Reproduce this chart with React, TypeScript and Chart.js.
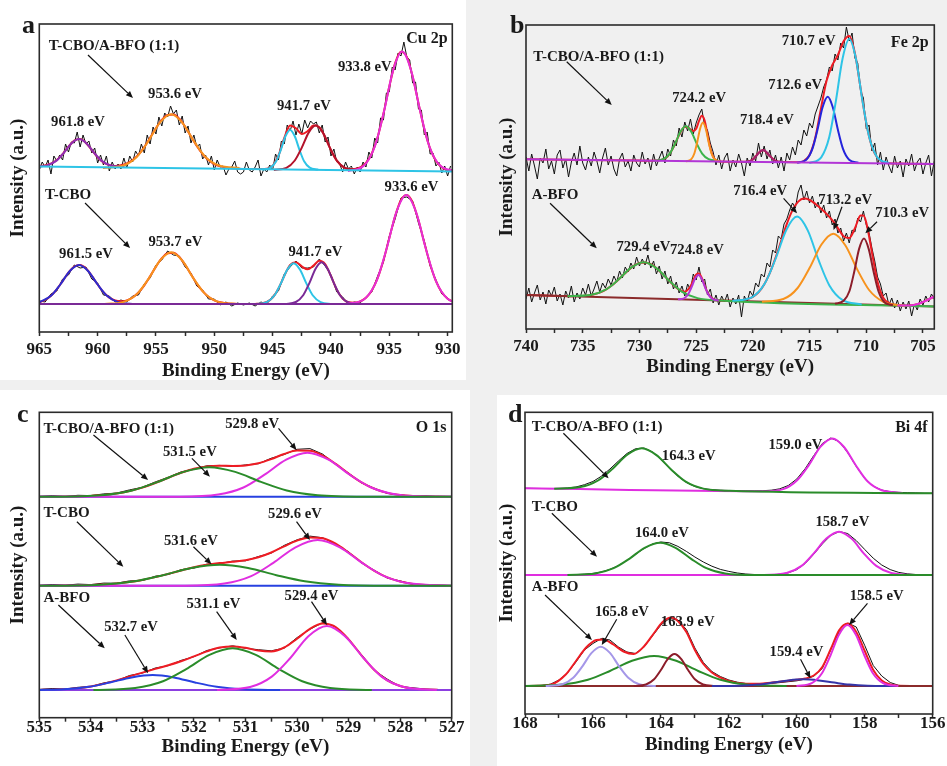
import React, { useEffect, useRef } from 'react';
import { Chart, registerables } from 'chart.js';

Chart.register(...registerables);

type Pt = [number, number];
const FONT = '"Liberation Serif", "Times New Roman", Times, serif';

/* ================= a : Cu 2p ================= */
const cuTickMajor = [965, 960, 955, 950, 945, 940, 935, 930];
const cuTickMinor = [962.5, 957.5, 952.5, 947.5, 942.5, 937.5, 932.5];
// T-CBO/A-BFO (1:1) measured counts (from 965 eV downward, 0.25 eV step)
const cuMixRawStart = 965;
const cuMixRawStep = 0.25;
const cuMixRaw = [
  162,170,165,172,158,176,171,177,172,188,
  180,190,189,200,185,197,188,191,179,184,
  169,177,167,176,161,170,163,168,163,174,
  164,176,170,181,176,188,179,197,188,205,
  198,215,206,219,215,226,218,222,207,216,
  199,206,189,197,185,188,173,177,167,176,
  162,172,165,166,157,163,165,171,160,158,
  160,170,162,160,165,172,156,163,160,167,
  162,178,172,191,188,207,201,211,197,208,
  198,212,204,211,208,210,199,207,190,195,
  176,183,170,168,160,170,163,166,158,165,
  160,170,165,180,174,194,189,214,212,239,
  240,265,262,279,276,290,275,272,249,250,
  223,222,197,200,178,179,166,170,159,166,
  156,166,
];
// fitted envelope (0.5 eV step from 965 eV)
const cuMixFitStart = 965;
const cuMixFitStep = 0.5;
const cuMixFit = [
  166,166.6,168.3,171.9,177.9,185.3,191.3,192.9,189.1,182,
  174.7,169.5,166.9,166.1,166.7,168.6,172,177.4,184.9,194.3,
  203.8,212.1,217,217.4,213.2,205.3,195.5,186,177.9,171.9,
  167.9,165.6,164.4,163.7,163.4,163.1,163.1,163,162.9,163.3,
  166.2,176.4,194.1,206.4,203.7,198.1,200.9,206.4,204.8,194.9,
  181.8,171.3,165.3,162.8,162.9,164.5,169,178.5,194.9,218.4,
  245.4,268.9,280.2,275.1,255.5,228.8,203,183.4,171.1,164.8,
  161.9,160.9,
];
const cuMixP9618: Pt[] = [[957.7,165.3],[958.87,166.6],[959.65,171.1],[960.3,179.2],[960.95,188.6],[961.6,193],[962.25,188.6],[962.9,179.2],[963.55,171.1],[964.33,166.6],[965,165.5]];
const cuMixP9536: Pt[] = [[947.85,164],[949.6,166.5],[950.78,175.3],[951.75,190.9],[952.73,209.2],[953.7,217.8],[954.68,209.2],[955.65,190.9],[956.63,175.3],[957.8,166.5],[959.55,164]];
const cuMixP9435: Pt[] = [[941.1,162.4],[941.82,164.3],[942.3,170.7],[942.7,182.2],[943.1,195.7],[943.5,202],[943.9,195.7],[944.3,182.2],[944.7,170.7],[945.18,164.3],[945.9,162.4]];
const cuMixP9413: Pt[] = [[937.7,162.1],[938.78,164.2],[939.5,171.5],[940.1,184.4],[940.7,199.6],[941.3,206.7],[941.9,199.6],[942.5,184.4],[943.1,171.5],[943.82,164.2],[944.9,162.1]];
const cuMixP9338: Pt[] = [[929.25,160.9],[930.65,166.5],[931.58,186],[932.35,220.7],[933.13,261.4],[933.9,280.4],[934.68,261.4],[935.45,220.7],[936.23,186],[937.16,166.5],[938.55,160.9]];
const cuMixBase: Pt[] = [[929.6,160.6],[965,165.5]];
// T-CBO (0.5 eV step from 965 eV)
const cuPureRawStart = 965;
const cuPureRawStep = 0.5;
const cuPureRaw = [
  31,30,38,41,53,57,67,64,65,53,49,37,36,30,32,30,36,37,48,54,
  67,72,81,77,76,65,59,46,42,33,33,27,30,26,29,27,29,26,30,28,
  36,41,58,65,71,64,64,65,73,66,57,40,35,28,30,29,35,40,56,70,
  96,113,134,135,131,109,91,66,52,38,34,29,
];
const cuPureFit = [
  29.7,32,36.2,42.7,50.9,59.3,65.4,66.9,63.4,56.1,
  47.5,39.8,34.4,31.5,30.7,31.6,34.5,39.5,46.7,55.8,
  65.4,73.8,78.8,79.3,75,67.2,57.7,48.4,40.8,35.2,
  31.7,29.8,28.7,28.3,28.1,28,28,28.1,28.4,30,
  34.3,43.5,56.2,67.1,69.8,65.6,62.7,66.4,71.2,68,
  56,42.4,33.4,29.8,29.3,30.7,34.3,41.5,53.8,71.7,
  93.9,115.9,131.9,136.9,129.4,111.7,89.3,67.8,50.9,39.7,
  33.2,30.2,
];
const cuPureP9615: Pt[] = [[956.8,28],[958.24,29.8],[959.2,36.2],[960,47.5],[960.8,60.8],[961.6,67],[962.4,60.8],[963.2,47.5],[964,36.2],[965,29.7]];
const cuPureP9537: Pt[] = [[948,28],[949.71,30.4],[950.85,38.9],[951.8,53.9],[952.75,71.5],[953.7,79.7],[954.65,71.5],[955.6,53.9],[956.55,38.9],[957.69,30.4],[959.4,28]];
const cuPureP9432: Pt[] = [[939.9,28],[940.89,29.9],[941.55,36.5],[942.1,48.4],[942.65,62.2],[943.2,68.7],[943.75,62.2],[944.3,48.4],[944.85,36.5],[945.51,29.9],[946.5,28]];
const cuPureP9408: Pt[] = [[937.65,28],[938.6,30],[939.23,36.8],[939.75,48.9],[940.28,63.1],[940.8,69.7],[941.33,63.1],[941.85,48.9],[942.38,36.8],[943.01,30],[943.95,28]];
const cuPureP9336: Pt[] = [[928.45,28],[929.98,33.1],[931,50.9],[931.85,82.5],[932.7,119.7],[933.55,137],[934.4,119.7],[935.25,82.5],[936.1,50.9],[937.12,33.1],[938.65,28]];
const cuPureBase: Pt[] = [[929.6,28],[965,28]];

/* ================= b : Fe 2p ================= */
const feTickMajor = [740, 735, 730, 725, 720, 715, 710, 705];
const feTickMinor = [737.5, 732.5, 727.5, 722.5, 717.5, 712.5, 707.5];
const feRawStart = 740;
const feRawStep = 0.25;
const feMixRaw = [
  172,158,175,163,150,171,166,180,160,168,155,174,179,161,170,152,167,176,164,183,
  166,159,172,163,177,168,156,171,181,164,173,160,153,170,176,162,168,158,174,166,
  162,177,165,171,159,
  175,163,171,178,166,180,173,189,183,201,192,207,
  198,210,195,206,214,220,203,199,186,177,164,174,
  160,171,176,158,169,162,175,166,153,171,163,176,
  168,186,172,183,170,179,165,174,161,172,158,176,
  169,182,174,189,184,199,193,206,201,215,223,231,
  242,249,262,258,275,269,286,281,302,288,296,271,
  266,238,231,200,204,178,186,164,177,159,172,163,
  156,173,161,168,152,170,163,175,158,167,171,155,
  166,174,153,168,
];
const feMixFit: Pt[] = [[740,169.7],[735,169],[730,168.4],[729,168.3],[728.5,168.4],[728,169.3],[727.5,172.8],[727,181.6],[726.5,194.1],[726,202.1],[725.75,201.8],[725.5,199.6],[725.25,197.9],[725,200.2],[724.75,207.8],[724.5,213.2],[724.25,208.4],[724,194.8],[723.75,180.7],[723.5,172.2],[723.25,168.7],[723,167.6],[720.5,167.2],[720,169.6],[719.5,175.9],[719.1,179],[718.5,173],[718,168.2],[717.5,166.9],[716,166.8],[715.5,168],[715,174],[714.5,191.1],[714,220.1],[713.5,248.2],[713,263.8],[712.5,274],[712,287.7],[711.5,292.9],[711,275.8],[710.5,240.8],[710,206],[709.5,182.3],[709,170.9],[708.5,167],[708,165.7],[707,165.4],[704,165]];
const feMixP7259: Pt[] = [[723.05,168.2],[723.9,169.8],[724.47,175.4],[724.95,185.5],[725.43,197.2],[725.9,202.7],[726.38,197.2],[726.85,185.5],[727.33,175.4],[727.9,169.8],[728.75,168.2]];
const feMixP7244: Pt[] = [[722.9,167.7],[723.35,169.5],[723.65,175.8],[723.9,187.1],[724.15,200.3],[724.4,206.5],[724.65,200.3],[724.9,187.1],[725.15,175.8],[725.45,169.5],[725.9,167.7]];
const feMixP7191: Pt[] = [[717.3,167],[717.84,167.6],[718.2,169.5],[718.5,173],[718.8,177.1],[719.1,179],[719.4,177.1],[719.7,173],[720,169.5],[720.36,167.6],[720.9,167]];
const feMixP7134: Pt[] = [[710.7,166.2],[711.51,169.3],[712.05,180.1],[712.5,199.2],[712.95,221.7],[713.4,232.2],[713.85,221.7],[714.3,199.2],[714.75,180.1],[715.29,169.3],[716.1,166.2]];
const feMixP7115: Pt[] = [[707.98,165.9],[709.03,171.7],[709.74,191.9],[710.33,227.9],[710.91,270.2],[711.5,289.9],[712.09,270.2],[712.68,227.9],[713.26,191.9],[713.97,171.7],[715.03,165.9]];
const feMixBase: Pt[] = [[704,165],[740,169.7]];
const feBfoRaw = [
  30,41,27,36,44,29,37,25,39,33,42,28,35,24,38,31,43,27,36,30,
  41,34,45,33,40,48,37,46,41,50,44,53,47,58,51,62,57,66,60,72,
  63,70,64,74,61,
  68,55,63,50,58,45,53,40,47,36,43,33,
  45,39,55,49,62,47,50,34,40,26,34,24,
  33,27,35,22,31,25,34,12,33,27,38,33,
  46,42,55,52,66,62,79,76,93,90,105,110,
  119,126,121,137,144,129,138,126,133,121,127,116,
  124,111,118,104,110,96,101,88,96,86,99,97,
  111,107,118,104,96,81,68,52,45,33,36,24,
  31,21,29,18,27,20,28,13,25,19,30,24,
  33,27,35,30,
];
const feBfoFit: Pt[] = [[740,34],[737,33.1],[736,32.8],[735.5,32.9],[735,33.1],[734.5,33.5],[734,34.7],[733.5,36.4],[733,39.1],[732.5,43],[732,47.8],[731.5,53.3],[731,58.6],[730.5,63.1],[730,66],[729.5,66.6],[729,64.8],[728.5,60.8],[728,55.4],[727.5,49.7],[727,44.1],[726.5,39.3],[726,37.2],[725.5,42.7],[725,54.4],[724.75,55.4],[724.5,51],[724,36.6],[723.5,29.9],[723,28.5],[722,28.3],[721.5,28.3],[721,28.8],[720.5,29.8],[720,32.2],[719.5,36.7],[719,44.5],[718.5,56.1],[718,71.1],[717.5,88.3],[717,105.2],[716.5,118.9],[716,127.4],[715.5,130.5],[715,129.1],[714.5,125.2],[714,120.4],[713.5,115.1],[713,108.8],[712.5,100.9],[712,92.8],[711.5,90.9],[711,100.7],[710.5,113.4],[710.25,113.5],[710,106.5],[709.5,76.8],[709,47],[708.5,31.2],[708,26],[707.5,24.3],[707,23.7],[706.5,23.3],[706,23.8],[705.5,24.8],[705,26.9],[704.5,29.7],[704,32.3]];
const feBfoP7294: Pt[] = [[704,22.5],[722.85,28.5],[724.88,30.9],[726.23,37.2],[727.35,48],[728.48,60.6],[729.6,66.7],[730.73,61.3],[731.85,49.4],[732.98,39.3],[734.33,33.9],[736.35,32.8]];
const feBfoP7248: Pt[] = [[723,28.5],[723.54,29.8],[723.9,34.1],[724.2,41.4],[724.5,50],[724.8,54.1],[725.1,50.2],[725.4,41.8],[725.7,34.7],[726.06,30.7],[726.6,29.7]];
const feBfoP7164: Pt[] = [[710.4,24.6],[712.11,29.1],[713.25,43.6],[714.2,68.8],[715.15,98.4],[716.1,112.4],[717.05,99],[718,70],[718.95,45.4],[720.09,31.7],[721.8,28.2]];
const feBfoP7132: Pt[] = [[706.6,23.3],[708.49,27.2],[709.75,39],[710.8,59.6],[711.85,83.8],[712.9,95.3],[713.95,84.5],[715,60.9],[716.05,41],[717.31,30],[719.2,27.3]];
const feBfoP7103: Pt[] = [[707.65,23.7],[708.42,27],[708.93,38],[709.35,57.2],[709.78,79.9],[710.2,90.5],[710.63,80.1],[711.05,57.8],[711.48,38],[711.99,28.2],[712.75,25.3]];
const feBfoP7035: Pt[] = [[703.5,33.3],[704.13,31.8],[704.75,28.2],[705.38,25.2],[706.13,23.6],[707.25,23.5]];
const feBfoBase: Pt[] = [[704,22.5],[740,34]];

/* ================= c : O 1s ================= */
const oTickMajor = [535, 534, 533, 532, 531, 530, 529, 528, 527];
const oTickMinor = [534.5, 533.5, 532.5, 531.5, 530.5, 529.5, 528.5, 527.5];
const oGridStart = 535;
const oGridStep = 0.25;
const oMixRaw = [221.3,222,221.2,222.4,222.1,223.8,224.6,227.8,230.4,235.8,240.3,245.8,248.6,251.9,252.3,251.2,252.8,254,259.5,263.2,268.4,269.1,263.5,253.2,244.6,234.8,229.4,224.2,222.9,221.3,221.8,221,221.2];
const oMixFit = [221,221,221.1,221.3,221.8,222.6,224.1,226.6,230.1,234.7,239.9,244.9,249,251.3,252,251.8,252.2,254.4,258.6,263.7,267.2,267,262.1,253.8,244.1,235.3,228.9,224.8,222.6,221.6,221.2,221.1,221];
const oMixP5315: Pt[] = [[527,221],[528.7,221],[529.6,222.4],[530.2,227.2],[530.7,235.8],[531.2,245.8],[531.7,250.5],[532.2,245.8],[532.7,235.8],[533.2,227.2],[533.8,222.4],[534.7,221],[535,221]];
const oMixP5298: Pt[] = [[527,221],[527.33,221],[528.07,223.1],[528.56,230.2],[528.98,243],[529.39,258],[529.8,265],[530.21,258],[530.63,243],[531.04,230.2],[531.53,223.1],[532.28,221],[535,221]];
const oMixBase: Pt[] = [[527,221],[535,221]];
const oPureRaw = [132.4,133.2,132.5,133.6,133.1,134.6,134.5,136.8,137.2,141.5,143.1,148,149.6,153.5,154.1,156.6,156.9,161.2,164.6,172.3,177.9,181.6,179.9,173.2,165.9,154.7,147.4,139.6,136.8,133.3,132.9,132.4,132.1];
const oPureFit = [132,132,132.1,132.3,132.6,133.2,134.1,135.6,137.8,140.6,143.8,147.2,150.4,152.9,154.6,155.9,157.5,160.4,165.2,171.4,177.1,180.3,179.4,174,165.2,155.5,146.8,140.3,136.2,133.8,132.7,132.2,132];
const oPureP5316: Pt[] = [[527,132],[528.2,132],[529.19,133],[529.85,136.4],[530.4,142.5],[530.95,149.7],[531.5,153],[532.05,149.7],[532.6,142.5],[533.15,136.4],[533.81,133],[534.8,132],[535,132]];
const oPureP5296: Pt[] = [[527.02,132],[527.79,134.1],[528.31,141.6],[528.74,154.9],[529.17,170.4],[529.6,177.7],[530.03,170.4],[530.46,154.9],[530.89,141.6],[531.41,134.1],[532.18,132],[535,132]];
const oPureBase: Pt[] = [[527,132],[535,132]];
const oBfoRaw = [28.3,29.2,28.6,30.4,31.1,34.8,36.9,42.2,44.6,49.7,52,57.3,61,67.2,69.8,71.9,69.4,68,66.9,69.6,80.1,88.4,95.2,91,77.6,63.1,47.2,38.6,31.2,29.9,28.6,28.2,27.9];
const oBfoFit = [27.8,28,28.5,29.5,31.2,33.9,37.3,41.3,45.1,48.8,52.4,56.4,61.3,66.3,70.1,71.3,69.9,67.2,66.3,70.2,79,88.9,94.1,90.6,78.4,62.4,47.7,37.4,31.7,29,28.1,27.8,27.7];
const oBfoP5327: Pt[] = [[530.33,27.7],[531.07,28.4],[531.56,30.9],[531.98,35.2],[532.39,40.3],[532.8,42.7],[533.21,40.3],[533.63,35.2],[534.04,30.9],[534.53,28.4],[535,27.8]];
const oBfoP5311: Pt[] = [[528.55,27.7],[529.36,29.7],[529.9,36.5],[530.35,48.6],[530.8,62.8],[531.25,69.4],[531.7,62.8],[532.15,48.6],[532.6,36.5],[533.14,29.7],[533.95,27.7]];
const oBfoP5294: Pt[] = [[527.29,27.7],[527.93,30.7],[528.36,41.1],[528.71,59.7],[529.07,81.5],[529.42,91.7],[529.78,81.5],[530.13,59.7],[530.49,41.1],[530.91,30.7],[531.55,27.7]];
const oBfoBase: Pt[] = [[527,27.7],[535,27.7]];

/* ================= d : Bi 4f ================= */
const biTickMajor = [168, 166, 164, 162, 160, 158, 156];
const biTickMinor = [167, 165, 163, 161, 159, 157];
const biGridStart = 168;
const biGridStep = 0.25;
const biMixRaw = [225.7,225.6,225.5,225.4,225.6,226,227,229.3,232.5,237.8,245,253,260.5,265.2,266,262,254.6,246,237.8,231.5,227.5,225.3,224.3,223.8,223.5,223.4,223.3,223.2,223.3,223.8,225.2,228.5,235,245.5,258.5,270.5,276,272.3,261.3,247.5,235.6,227.8,223.9,222.3,221.6,221.3,221.1,220.8,220.7];
const biMixP1643: Pt[] = [[156,220.7],[161.98,223.2],[162.75,225.4],[163.27,232.4],[163.7,244.6],[164.13,258.9],[164.56,265.7],[164.99,259.3],[165.42,245.3],[165.85,233.5],[166.37,226.9],[167.14,225.3]];
const biMixP1590: Pt[] = [[156.88,221.1],[157.5,223.8],[157.92,232.8],[158.26,248.5],[158.61,267],[158.95,275.6],[159.3,267.3],[159.64,249.1],[159.99,233.7],[160.4,224.9],[161.02,222.8],[168,225.7]];
const biPureRaw = [139,139,139,139.1,139.1,139.2,139.4,139.8,140.6,142,144.6,148.4,153.6,159.6,165.4,170,172,171.2,167.6,162.6,157,152,147.8,144.6,142.6,141,140,139.5,139.2,139.3,139.8,141.2,144.4,150.6,159.8,170,178.6,182.5,180.4,173.4,164.5,155.8,149,144.4,141.6,140.2,139.5,139.1,139];
const biPureP1640: Pt[] = [[156,139],[161.29,139],[162.11,140.5],[162.66,145.8],[163.11,155.2],[163.57,166.2],[164.02,171.3],[164.48,166.2],[164.93,155.2],[165.39,145.8],[165.93,140.5],[166.75,139]];
const biPureP1587: Pt[] = [[156.56,139],[157.22,141],[157.66,148.1],[158.03,160.7],[158.39,175.4],[158.76,182.3],[159.13,175.4],[159.5,160.7],[159.86,148.1],[160.3,141],[160.97,139],[168,139]];
const biBfoRaw = [28,28.2,28.6,29.8,34,41,52,64,70.5,75.5,74,67,62,60.5,67,78,89,95.5,94,84.5,66,51.5,42.5,37.5,34,31.8,30.5,30.2,30.1,30.6,31.4,32.3,33.2,35,37.8,45.5,64.5,82.5,91,87,68.5,48.5,38,31.5,28.6,28.1,28,28,28];
const biBfoFit: Pt[] = [[156,28],[157,28.3],[157.25,29.5],[157.5,33.5],[157.75,44],[158,63],[158.25,82],[158.5,90.5],[158.75,84],[159,65],[159.25,47],[159.5,38.5],[159.75,35.5],[160,34.2],[160.5,32.3],[161,30.5],[161.5,30.2],[162,33],[162.5,41.5],[162.75,50],[163,64],[163.25,82],[163.5,93],[163.7,96.5],[163.95,92],[164.2,81],[164.5,67.5],[164.8,60],[165.1,62.5],[165.4,69.5],[165.7,74.5],[165.9,74],[166.2,66.5],[166.5,53],[166.8,39.5],[167.2,29.8],[167.6,28.2],[168,28]];
const biBfoP1658: Pt[] = [[164.15,28],[164.64,29.8],[164.96,36.3],[165.23,47.7],[165.5,61.1],[165.77,67.3],[166.04,61.1],[166.31,47.7],[166.58,36.3],[166.9,29.8],[167.39,28]];
const biBfoP1642: Pt[] = [[160.3,28],[161.47,29.4],[162.25,34.3],[162.9,43],[163.55,53.2],[164.2,58],[164.85,53.2],[165.5,43],[166.15,34.3],[166.93,29.4],[168.1,28]];
const biBfoP1636: Pt[] = [[162.4,28],[162.76,29.5],[163,34.7],[163.2,44],[163.4,54.9],[163.6,60],[163.8,54.9],[164,44],[164.2,34.7],[164.44,29.5],[164.8,28]];
const biBfoP1598: Pt[] = [[157.1,28],[157.91,28.3],[158.45,29.4],[158.9,31.4],[159.35,33.6],[159.8,34.7],[160.25,33.6],[160.7,31.4],[161.15,29.4],[161.69,28.3],[162.5,28]];
const biBfoP1585: Pt[] = [[157.01,28],[157.46,30.9],[157.76,40.8],[158.01,58.5],[158.26,79.3],[158.51,89],[158.76,79.3],[159.01,58.5],[159.26,40.8],[159.56,30.9],[160.01,28]];
const biBfoBase: Pt[] = [[156,28],[168,28]];

/* ================= styling ================= */
const RAW = '#111111';
const FIT = '#ee1c24';
const C = {
  purple: '#8e2fb5', orange: '#f7931e', cyan: '#2ec4e6', darkred: '#b3132b',
  magenta: '#e62fd6', blue: '#2d2dcf', violet: '#7a2a96', green: '#3cb44b',
  plum: '#a3206f', blue2: '#2424dc', purple2: '#b236d6', maroon: '#8c1d2a',
  brown: '#8b2b2b', dgreen: '#2a8c2a', lavender: '#a597e8', navy: '#3535a8',
  blueC: '#2741e0', violetC: '#8c3fe0', magentaC: '#e02ee0',
};

function grid(start: number, step: number, vals: number[]): Pt[] {
  return vals.map((v, i) => [start - i * step, v] as Pt);
}

type Series = { data: Pt[]; color: string; width: number; smooth: boolean };
const raw = (d: Pt[]): Series => ({ data: d, color: RAW, width: 1, smooth: false });
const fit = (d: Pt[]): Series => ({ data: d, color: FIT, width: 2, smooth: true });
const comp = (d: Pt[], color: string): Series => ({ data: d, color, width: 2, smooth: true });
const base = (d: Pt[], color: string): Series => ({ data: d, color, width: 2, smooth: false });

type Label = { t: string; x: number; y: number; align?: CanvasTextAlign; size?: number };
type PanelCfg = {
  id: string; letter: string; letterDx: number; letterDy: number;
  box: { left: number; top: number; w: number; h: number };
  ca: { l: number; t: number; r: number; b: number };
  xMin: number; xMax: number; yMax: number;
  major: number[]; minor: number[]; tickPad: number; yTitleX: number; xTitleY: number;
  series: Series[]; labels: Label[]; arrows: number[][];
};

const panels: PanelCfg[] = [
  {
    id: 'a', letter: 'a', letterDx: -17.3, letterDy: 9,
    box: { left: 0, top: 0, w: 470, h: 385 },
    ca: { l: 39.3, t: 24, r: 452.3, b: 332 },
    xMin: 929.6, xMax: 965, yMax: 308,
    major: cuTickMajor, minor: cuTickMinor, tickPad: 3.8, yTitleX: 18.3, xTitleY: 371,
    series: [
      raw(grid(cuMixRawStart, cuMixRawStep, cuMixRaw)),
      fit(grid(cuMixFitStart, cuMixFitStep, cuMixFit)),
      comp(cuMixP9618, C.purple), comp(cuMixP9536, C.orange), comp(cuMixP9435, C.cyan),
      comp(cuMixP9413, C.darkred), comp(cuMixP9338, C.magenta), base(cuMixBase, C.cyan),
      raw(grid(cuPureRawStart, cuPureRawStep, cuPureRaw)),
      fit(grid(cuPureRawStart, cuPureRawStep, cuPureFit)),
      comp(cuPureP9615, C.blue), comp(cuPureP9537, C.orange), comp(cuPureP9432, C.cyan),
      comp(cuPureP9408, C.violet), comp(cuPureP9336, C.magenta), base(cuPureBase, C.violet),
    ],
    labels: [
      { t: 'T-CBO/A-BFO (1:1)', x: 964.2, y: 286, align: 'left', size: 15 },
      { t: 'Cu 2p', x: 930.0, y: 293, align: 'right', size: 16 },
      { t: '953.6 eV', x: 953.37, y: 238 },
      { t: '961.8 eV', x: 961.68, y: 210 },
      { t: '941.7 eV', x: 942.32, y: 226 },
      { t: '933.8 eV', x: 937.1, y: 264.5 },
      { t: 'T-CBO', x: 964.51, y: 137, align: 'left', size: 15 },
      { t: '961.5 eV', x: 961.0, y: 78 },
      { t: '953.7 eV', x: 953.33, y: 89.5 },
      { t: '941.7 eV', x: 941.33, y: 80 },
      { t: '933.6 eV', x: 933.1, y: 145 },
    ],
    arrows: [[960.83, 277, 956.97, 234], [961.08, 129, 957.22, 84]],
  },
  {
    id: 'b', letter: 'b', letterDx: -16, letterDy: 8,
    box: { left: 470, top: 0, w: 477, h: 380 },
    ca: { l: 526, t: 25, r: 934.3, b: 329 },
    xMin: 704, xMax: 740, yMax: 304,
    major: feTickMajor, minor: feTickMinor, tickPad: 3.5, yTitleX: 506.7, xTitleY: 366.7,
    series: [
      raw(grid(feRawStart, feRawStep, feMixRaw)),
      fit(feMixFit),
      comp(feMixP7259, C.green), comp(feMixP7244, C.orange), comp(feMixP7191, C.plum),
      comp(feMixP7134, C.blue2), comp(feMixP7115, C.cyan), base(feMixBase, C.purple2),
      raw(grid(feRawStart, feRawStep, feBfoRaw)),
      fit(feBfoFit),
      base(feBfoBase, C.brown),
      comp(feBfoP7294, C.green), comp(feBfoP7248, C.purple2), comp(feBfoP7164, C.cyan),
      comp(feBfoP7132, C.orange), comp(feBfoP7103, C.maroon), comp(feBfoP7035, C.magenta),
    ],
    labels: [
      { t: 'T-CBO/A-BFO (1:1)', x: 739.36, y: 271.5, align: 'left', size: 15 },
      { t: '724.2 eV', x: 724.73, y: 231 },
      { t: '718.4 eV', x: 718.76, y: 208.5 },
      { t: '712.6 eV', x: 716.26, y: 244 },
      { t: '710.7 eV', x: 715.08, y: 287.3 },
      { t: 'Fe 2p', x: 704.5, y: 285.7, align: 'right', size: 16 },
      { t: 'A-BFO', x: 739.5, y: 134.3, align: 'left', size: 15 },
      { t: '729.4 eV', x: 729.65, y: 81.5 },
      { t: '724.8 eV', x: 724.93, y: 79 },
      { t: '716.4 eV', x: 719.35, y: 138.2 },
      { t: '713.2 eV', x: 711.85, y: 129 },
      { t: '710.3 eV', x: 706.84, y: 115.7 },
    ],
    arrows: [
      [736.41, 267.3, 732.44, 224], [737.88, 125.7, 733.76, 80.7],
      [717.29, 130.7, 716.1, 115.7], [712.14, 122.3, 712.88, 99], [709.05, 107.3, 710.08, 95.7],
    ],
  },
  {
    id: 'c', letter: 'c', letterDx: -22.3, letterDy: 9.7,
    box: { left: 0, top: 385, w: 470, h: 381 },
    ca: { l: 39.3, t: 412.3, r: 451.7, b: 717.7 },
    xMin: 527, xMax: 535, yMax: 305.4,
    major: oTickMajor, minor: oTickMinor, tickPad: -4.4, yTitleX: 18.3, xTitleY: 747,
    series: [
      raw(grid(oGridStart, oGridStep, oMixRaw)),
      fit(grid(oGridStart, oGridStep, oMixFit)),
      base(oMixBase, C.blueC), comp(oMixP5298, C.magentaC), comp(oMixP5315, C.dgreen),
      raw(grid(oGridStart, oGridStep, oPureRaw)),
      fit(grid(oGridStart, oGridStep, oPureFit)),
      base(oPureBase, C.blueC), comp(oPureP5296, C.magentaC), comp(oPureP5316, C.dgreen),
      raw(grid(oGridStart, oGridStep, oBfoRaw)),
      fit(grid(oGridStart, oGridStep, oBfoFit)),
      base(oBfoBase, C.violetC), comp(oBfoP5327, C.blueC), comp(oBfoP5311, C.dgreen), comp(oBfoP5294, C.magentaC),
    ],
    labels: [
      { t: 'T-CBO/A-BFO (1:1)', x: 534.92, y: 288.5, align: 'left', size: 15 },
      { t: '531.5 eV', x: 532.08, y: 265.2 },
      { t: '529.8 eV', x: 530.87, y: 293.5 },
      { t: 'O 1s', x: 527.1, y: 290.2, align: 'right', size: 16 },
      { t: 'T-CBO', x: 534.92, y: 204.4, align: 'left', size: 15 },
      { t: '531.6 eV', x: 532.06, y: 176.9 },
      { t: '529.6 eV', x: 530.04, y: 203.5 },
      { t: 'A-BFO', x: 534.92, y: 119.4, align: 'left', size: 15 },
      { t: '532.7 eV', x: 533.22, y: 90.2 },
      { t: '531.1 eV', x: 531.62, y: 113.5 },
      { t: '529.4 eV', x: 529.72, y: 121.7 },
    ],
    arrows: [
      [533.95, 282.7, 532.89, 237.7], [532.04, 259.4, 531.69, 241], [530.36, 289.4, 530.01, 267.7],
      [534.27, 196, 533.37, 151], [532.01, 171, 531.66, 153.4], [530.01, 196, 529.75, 177.7],
      [534.63, 112.7, 533.73, 69.4], [533.34, 82.7, 532.89, 44.4], [531.56, 106, 531.17, 77.7],
      [529.72, 116, 529.42, 92.7],
    ],
  },
  {
    id: 'd', letter: 'd', letterDx: -17, letterDy: 9.7,
    box: { left: 470, top: 385, w: 477, h: 381 },
    ca: { l: 525, t: 412.3, r: 932.7, b: 714 },
    xMin: 156, xMax: 168, yMax: 301.7,
    major: biTickMajor, minor: biTickMinor, tickPad: -4.7, yTitleX: 506.7, xTitleY: 745,
    series: [
      raw(grid(biGridStart, biGridStep, biMixRaw)),
      comp(biMixP1590, C.magentaC), comp(biMixP1643, C.dgreen),
      raw(grid(biGridStart, biGridStep, biPureRaw)),
      comp(biPureP1587, C.magentaC), comp(biPureP1640, C.dgreen),
      raw(grid(biGridStart, biGridStep, biBfoRaw)),
      fit(biBfoFit),
      base(biBfoBase, C.brown),
      comp(biBfoP1642, C.dgreen), comp(biBfoP1658, C.lavender), comp(biBfoP1636, C.maroon),
      comp(biBfoP1598, C.navy), comp(biBfoP1585, C.magentaC),
    ],
    labels: [
      { t: 'T-CBO/A-BFO (1:1)', x: 167.8, y: 286.5, align: 'left', size: 15 },
      { t: '164.3 eV', x: 163.18, y: 257.3 },
      { t: '159.0 eV', x: 160.04, y: 269 },
      { t: 'Bi 4f', x: 156.15, y: 285.7, align: 'right', size: 16 },
      { t: 'T-CBO', x: 167.8, y: 207.3, align: 'left', size: 15 },
      { t: '164.0 eV', x: 163.97, y: 180.7 },
      { t: '158.7 eV', x: 158.66, y: 191.5 },
      { t: 'A-BFO', x: 167.8, y: 126.5, align: 'left', size: 15 },
      { t: '165.8 eV', x: 165.15, y: 101.5 },
      { t: '163.9 eV', x: 163.21, y: 91.5 },
      { t: '159.4 eV', x: 160.01, y: 61.5 },
      { t: '158.5 eV', x: 157.65, y: 118 },
    ],
    arrows: [
      [166.87, 280.7, 165.54, 235.7], [167.21, 200.7, 165.88, 157.3], [167.41, 119, 166.03, 74],
      [165.3, 94.7, 165.74, 69], [159.89, 54.7, 159.6, 35.7], [157.92, 110.7, 158.46, 89],
    ],
  },
];

function makeOverlay(p: PanelCfg) {
  return {
    id: 'overlay_' + p.id,
    afterDatasetsDraw(chart: any) {
      const { ctx, chartArea: ca, scales } = chart;
      const xs = scales.x;
      const ys = scales.y;
      ctx.save();
      ctx.strokeStyle = '#2b2b2b';
      ctx.lineWidth = 1.6;
      ctx.strokeRect(ca.left, ca.top, ca.right - ca.left, ca.bottom - ca.top);
      ctx.strokeStyle = '#111';
      ctx.fillStyle = '#111';
      ctx.lineWidth = 1.2;
      for (const [x1, y1, x2, y2] of p.arrows) {
        const ax = xs.getPixelForValue(x1), ay = ys.getPixelForValue(y1);
        const bx = xs.getPixelForValue(x2), by = ys.getPixelForValue(y2);
        const ang = Math.atan2(by - ay, bx - ax);
        const hl = 7, hw = 3;
        const cx = bx - hl * Math.cos(ang), cy = by - hl * Math.sin(ang);
        ctx.beginPath(); ctx.moveTo(ax, ay); ctx.lineTo(cx, cy); ctx.stroke();
        ctx.beginPath();
        ctx.moveTo(bx, by);
        ctx.lineTo(cx + hw * Math.sin(ang), cy - hw * Math.cos(ang));
        ctx.lineTo(cx - hw * Math.sin(ang), cy + hw * Math.cos(ang));
        ctx.closePath(); ctx.fill();
      }
      ctx.fillStyle = '#1a1a1a';
      ctx.textBaseline = 'middle';
      for (const l of p.labels) {
        ctx.font = `bold ${l.size ?? 14.7}px ${FONT}`;
        ctx.textAlign = l.align ?? 'center';
        ctx.fillText(l.t, xs.getPixelForValue(l.x), ys.getPixelForValue(l.y));
      }
      ctx.font = `bold 26px ${FONT}`;
      ctx.textAlign = 'left';
      ctx.textBaseline = 'alphabetic';
      ctx.fillText(p.letter, ca.left + p.letterDx, ca.top + p.letterDy);
      ctx.restore();
    },
  };
}

function Panel({ p }: { p: PanelCfg }) {
  const ref = useRef<HTMLCanvasElement>(null);
  useEffect(() => {
    if (!ref.current) return;
    const n = p.series.length;
    const wy = p.ca.l - p.box.left;
    const hx = p.xTitleY - p.ca.b + (19 * 1.2) / 2;
    const allTicks = [...p.major, ...p.minor].sort((a, b) => a - b);
    const chart = new Chart(ref.current, {
      type: 'line',
      data: {
        datasets: p.series.map((s, i) => ({
          data: s.data.map(([x, y]) => ({ x, y })),
          borderColor: s.color,
          borderWidth: s.width,
          pointRadius: 0,
          fill: false,
          tension: s.smooth ? 0.4 : 0,
          cubicInterpolationMode: s.smooth ? 'monotone' : 'default',
          order: n - i,
        })) as any,
      },
      options: {
        animation: false,
        responsive: false,
        devicePixelRatio: 1,
        events: [],
        layout: {
          padding: {
            left: 0,
            top: p.ca.t - p.box.top,
            right: p.box.left + p.box.w - p.ca.r,
            bottom: p.box.top + p.box.h - p.ca.b - hx,
          },
        },
        plugins: { legend: { display: false }, tooltip: { enabled: false } },
        scales: {
          x: {
            type: 'linear',
            reverse: true,
            min: p.xMin,
            max: p.xMax,
            afterBuildTicks: (s: any) => { s.ticks = allTicks.map((v) => ({ value: v })); },
            afterFit: (s: any) => { s.height = hx; s.paddingLeft = 0; s.paddingRight = 0; },
            ticks: {
              autoSkip: false,
              maxRotation: 0,
              minRotation: 0,
              includeBounds: false,
              padding: p.tickPad,
              color: '#1a1a1a',
              font: { family: FONT, size: 17, weight: 'bold' },
              callback: (v: any) => (p.major.includes(Number(v)) ? String(v) : ''),
            },
            grid: { display: true, drawOnChartArea: false, drawTicks: true, tickLength: 4, tickColor: '#2b2b2b', tickWidth: 1.5 },
            border: { display: false },
            title: {
              display: true,
              text: 'Binding Energy (eV)',
              color: '#1a1a1a',
              font: { family: FONT, size: 19, weight: 'bold' },
              padding: { top: 0, bottom: 0 },
            },
          } as any,
          y: {
            type: 'linear',
            min: 0,
            max: p.yMax,
            afterFit: (s: any) => { s.width = wy; s.paddingTop = 0; s.paddingBottom = 0; },
            ticks: { display: false },
            grid: { display: false },
            border: { display: false },
            title: {
              display: true,
              text: 'Intensity (a.u.)',
              color: '#1a1a1a',
              font: { family: FONT, size: 19, weight: 'bold' },
              padding: { top: p.yTitleX - p.box.left - (19 * 1.2) / 2, bottom: 0 },
            },
          } as any,
        },
      },
      plugins: [makeOverlay(p)],
    });
    return () => chart.destroy();
  }, [p]);
  return (
    <canvas
      ref={ref}
      width={p.box.w}
      height={p.box.h}
      style={{ position: 'absolute', left: p.box.left, top: p.box.top, width: p.box.w, height: p.box.h }}
    />
  );
}

export default function App() {
  return (
    <div style={{ position: 'fixed', left: 0, top: 0, width: 947, height: 766, background: '#f0f0f0', overflow: 'hidden' }}>
      <div style={{ position: 'absolute', left: 0, top: 0, width: 466, height: 380, background: '#ffffff' }} />
      <div style={{ position: 'absolute', left: 0, top: 390, width: 470, height: 376, background: '#ffffff' }} />
      <div style={{ position: 'absolute', left: 497, top: 395, width: 450, height: 371, background: '#ffffff' }} />
      {panels.map((p) => <Panel key={p.id} p={p} />)}
    </div>
  );
}
